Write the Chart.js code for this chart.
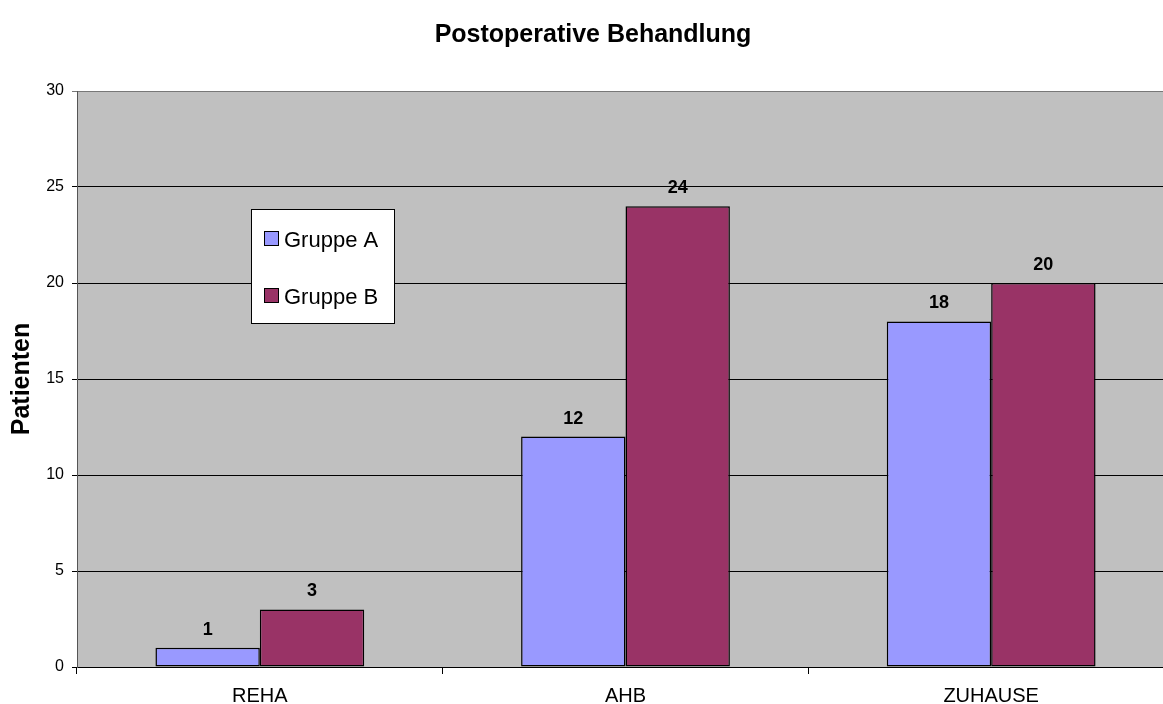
<!DOCTYPE html>
<html>
<head>
<meta charset="utf-8">
<script src="https://cdn.jsdelivr.net/npm/chart.js@4/dist/chart.umd.min.js"></script>
<style>
  html, body { margin: 0; padding: 0; background: #fff; overflow: hidden; }
  #wrap { position: relative; width: 1174px; height: 704px; }
</style>
</head>
<body>
<div id="wrap"><canvas id="c"></canvas></div>
<script>
// Patients per postoperative treatment path
const categories = ['REHA', 'AHB', 'ZUHAUSE'];
const gruppeA = [1, 12, 18];
const gruppeB = [3, 24, 20];
const seriesNames = ['Gruppe A', 'Gruppe B'];
const seriesColors = ['#9999FF', '#993366'];
const yTicks = [0, 5, 10, 15, 20, 25, 30];

const FONT = '"Liberation Sans", Arial, Helvetica, sans-serif';

// grey plot background behind grid and bars
const plotBackground = {
  id: 'plotBackground',
  beforeDraw(chart) {
    const { ctx, chartArea: a } = chart;
    ctx.save();
    ctx.fillStyle = '#C0C0C0';
    ctx.fillRect(a.left, a.top, a.right - a.left, a.bottom - a.top);
    ctx.restore();
  }
};

// chart heading
const heading = {
  id: 'heading',
  afterDraw(chart) {
    const { ctx } = chart;
    ctx.save();
    ctx.font = 'bold 25px ' + FONT;
    ctx.fillStyle = '#000';
    ctx.textAlign = 'center';
    ctx.textBaseline = 'alphabetic';
    ctx.fillText('Postoperative Behandlung', 593, 42);
    ctx.restore();
  }
};

// value printed above each bar
const valueLabels = {
  id: 'valueLabels',
  afterDatasetsDraw(chart) {
    const { ctx } = chart;
    ctx.save();
    ctx.font = 'bold 18px ' + FONT;
    ctx.fillStyle = '#000';
    ctx.textAlign = 'center';
    ctx.textBaseline = 'alphabetic';
    chart.data.datasets.forEach((ds, i) => {
      chart.getDatasetMeta(i).data.forEach((bar, j) => {
        ctx.fillText(String(ds.data[j]), bar.x, bar.y - 13);
      });
    });
    ctx.restore();
  }
};

// boxed legend floating inside the plot
const boxLegend = {
  id: 'boxLegend',
  afterDraw(chart) {
    const { ctx } = chart;
    const x0 = 251, y0 = 209, w = 143, h = 114;
    ctx.save();
    ctx.fillStyle = '#fff';
    ctx.fillRect(x0, y0, w, h);
    ctx.strokeStyle = '#000';
    ctx.lineWidth = 1;
    ctx.strokeRect(x0 + 0.5, y0 + 0.5, w, h);
    ctx.font = '22px ' + FONT;
    ctx.textBaseline = 'alphabetic';
    chart.data.datasets.forEach((ds, i) => {
      const base = 247 + i * 57;
      ctx.fillStyle = ds.backgroundColor;
      ctx.fillRect(264, base - 15, 14, 14);
      ctx.strokeStyle = '#000';
      ctx.strokeRect(264.5, base - 15.5, 14, 14);
      ctx.fillStyle = '#000';
      ctx.fillText(ds.label, 284, base);
    });
    ctx.restore();
  }
};

const barStyle = {
  borderColor: '#000000',
  borderWidth: 1.5,
  borderSkipped: false,
  categoryPercentage: 0.571,
  barPercentage: 1
};

new Chart(document.getElementById('c'), {
  type: 'bar',
  data: {
    labels: categories,
    datasets: [
      Object.assign({ label: seriesNames[0], data: gruppeA, backgroundColor: seriesColors[0] }, barStyle),
      Object.assign({ label: seriesNames[1], data: gruppeB, backgroundColor: seriesColors[1] }, barStyle)
    ]
  },
  options: {
    responsive: true,
    maintainAspectRatio: false,
    animation: false,
    devicePixelRatio: 1,
    layout: { padding: { top: 91, right: 0, bottom: 0, left: 0 } },
    plugins: {
      legend: { display: false },
      title: { display: false },
      tooltip: { enabled: false }
    },
    scales: {
      x: {
        afterFit(s) { s.height = 37; },
        grid: {
          offset: true,
          drawOnChartArea: false,
          drawTicks: true,
          tickLength: 7,
          color: '#000',
          lineWidth: 1
        },
        border: { color: '#000', width: 1 },
        ticks: {
          color: '#000',
          font: { family: FONT, size: 20 },
          padding: 10,
          maxRotation: 0
        }
      },
      y: {
        min: 0,
        max: 30,
        afterFit(s) { s.width = 77; },
        afterBuildTicks(s) { s.ticks = yTicks.map(v => ({ value: v })); },
        grid: {
          drawTicks: true,
          tickLength: 5,
          color: (c) => (c.tick && c.tick.value === 30 ? '#777' : '#000'),
          lineWidth: 1
        },
        border: { color: '#555', width: 1 },
        ticks: {
          color: '#000',
          font: { family: FONT, size: 16 },
          padding: 8
        },
        title: {
          display: true,
          text: 'Patienten',
          color: '#000',
          font: { family: FONT, size: 25, weight: 'bold' },
          padding: { top: 7, bottom: 0 }
        }
      }
    }
  },
  plugins: [plotBackground, valueLabels, boxLegend, heading]
});
</script>
</body>
</html>
